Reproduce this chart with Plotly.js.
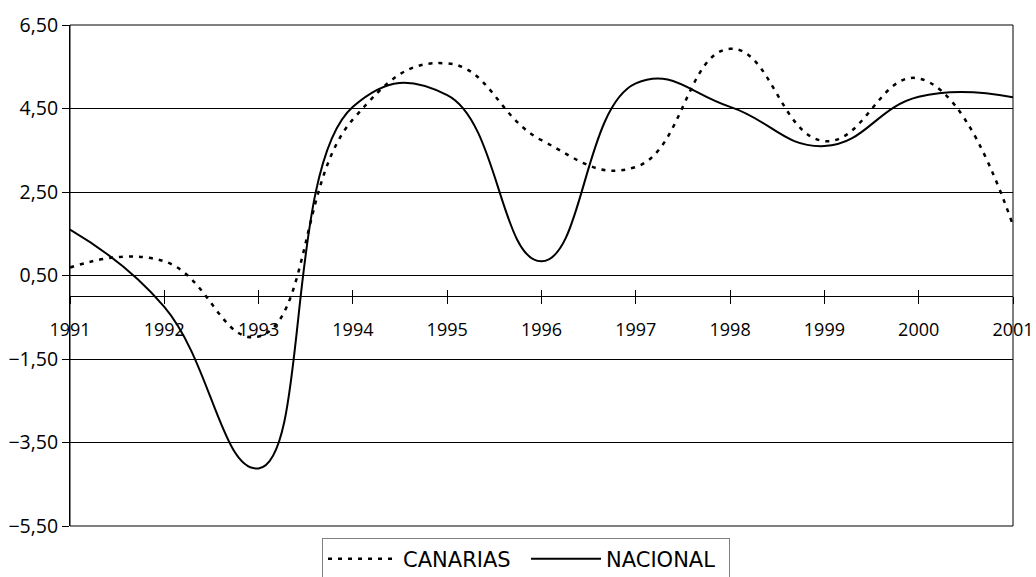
<!DOCTYPE html>
<html>
<head>
<meta charset="utf-8">
<script src="https://cdn.plot.ly/plotly-3.0.1.min.js"></script>
<style>html,body{margin:0;padding:0;background:#fff;}#chart{width:1036px;height:577px;}</style>
</head>
<body>
<div id="chart"></div>
<script>
var years = [1991, 1992, 1993, 1994, 1995, 1996, 1997, 1998, 1999, 2000, 2001];
var yearLabels = ['1991','1992','1993','1994','1995','1996','1997','1998','1999','2000','2001'];
var canarias = [0.69, 0.84, -0.96, 4.24, 5.58, 3.74, 3.10, 5.93, 3.72, 5.22, 1.70];
var nacional = [1.60, -0.25, -4.12, 4.54, 4.82, 0.84, 5.10, 4.54, 3.60, 4.78, 4.77];
var yTicks = [-5.5, -3.5, -1.5, 0.5, 2.5, 4.5, 6.5];

var tickFont = {family: '"Open Sans", "Noto Sans", sans-serif', size: 19.5, color: '#000'};
var xFont = {family: '"Open Sans", "Noto Sans", sans-serif', size: 18, color: '#000'};
var axisPos = (0 - (-5.5)) / 12;

var traces = [
  {x: years, y: canarias, name: 'CANARIAS', type: 'scatter', mode: 'lines',
   line: {color: '#000', width: 2.5, dash: '4px,6px', shape: 'spline', smoothing: 1.3}},
  {x: years, y: nacional, name: 'NACIONAL', type: 'scatter', mode: 'lines',
   line: {color: '#000', width: 2, shape: 'spline', smoothing: 1.3}},
  {x: [], y: [], xaxis: 'x2', yaxis: 'y', showlegend: false, hoverinfo: 'skip', type: 'scatter', mode: 'lines'}
];

var layout = {
  width: 1036, height: 577,
  margin: {l: 70, r: 23, t: 25, b: 51, autoexpand: false},
  paper_bgcolor: '#fff', plot_bgcolor: '#fff',
  separators: ',.',
  showlegend: true,
  xaxis: {
    range: [1991, 2001], tickvals: years, ticktext: yearLabels,
    anchor: 'free', position: axisPos,
    showline: true, linecolor: '#000', linewidth: 1,
    ticks: 'outside', ticklen: 7, tickcolor: '#000', tickwidth: 1,
    ticklabelstandoff: 10,
    showgrid: false, zeroline: false, tickfont: xFont, automargin: false
  },
  xaxis2: {
    range: [1991, 2001], tickvals: years, overlaying: 'x',
    anchor: 'free', position: axisPos,
    showline: false, ticks: 'inside', ticklen: 6, tickcolor: '#000', tickwidth: 1,
    showticklabels: false, showgrid: false, zeroline: false
  },
  yaxis: {
    range: [-5.5, 6.5], tickvals: yTicks, tickformat: '.2f',
    showgrid: true, gridcolor: '#000', gridwidth: 1,
    showline: true, linecolor: '#000', linewidth: 1,
    ticks: 'outside', ticklen: 7, tickcolor: '#000',
    ticklabelstandoff: 0,
    zeroline: false, tickfont: tickFont, automargin: false
  },
  shapes: [
    {type: 'rect', xref: 'paper', yref: 'paper', x0: 0, x1: 1, y0: 0, y1: 1,
     line: {color: '#000', width: 1}, layer: 'above'}
  ],
  legend: {
    orientation: 'h', x: 0.4836, xanchor: 'center', y: -0.023, yanchor: 'top',
    bordercolor: '#808080', borderwidth: 1, bgcolor: '#fff',
    itemwidth: 70, entrywidth: 118,
    font: {family: '"DejaVu Sans", sans-serif', size: 21, color: '#000'}
  }
};

Plotly.newPlot('chart', traces, layout, {displayModeBar: false, staticPlot: true});
</script>
</body>
</html>
